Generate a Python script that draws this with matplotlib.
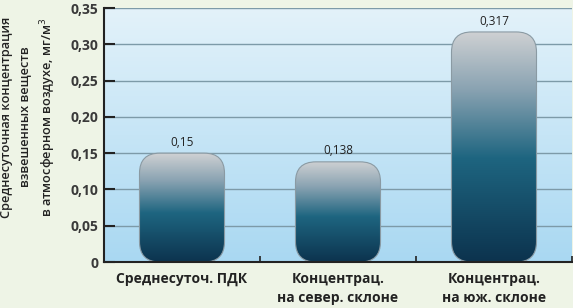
import numpy as np
import matplotlib.pyplot as plt
from matplotlib.patches import FancyBboxPatch
from matplotlib.colors import LinearSegmentedColormap

categories = ['Среднесуточ. ПДК', 'Концентрац.\nна север. склоне', 'Концентрац.\nна юж. склоне']
values = [0.15, 0.138, 0.317]
value_labels = ['0,15', '0,138', '0,317']
yticks = [0, 0.05, 0.10, 0.15, 0.20, 0.25, 0.30, 0.35]
ytick_labels = ['0', '0,05', '0,10', '0,15', '0,20', '0,25', '0,30', '0,35']

plt.rcParams['font.family'] = ['Open Sans', 'DejaVu Sans']

fig = plt.figure(figsize=(5.73, 3.08), dpi=100, facecolor='#eef4e6')
ax = fig.add_axes([104 / 573, 46 / 308, 468 / 573, 254 / 308])
ax.set_xlim(-0.5, 2.5)
ax.set_ylim(0, 0.35)

# background gradient of plot area
bg = LinearSegmentedColormap.from_list('bg', ['#a9d8f2', '#e3f2fa'])
ax.imshow(np.linspace(0, 1, 256).reshape(-1, 1), cmap=bg, origin='lower',
          extent=[-0.5, 2.5, 0, 0.35], aspect='auto', zorder=0)

for y in yticks[1:]:
    ax.axhline(y, color='#7d9aa8', lw=1, zorder=1)

x = np.arange(len(categories))
bars = ax.bar(x, values, 0.545, alpha=0, zorder=2)

barcm = LinearSegmentedColormap.from_list(
    'bar', [(0, '#0c334e'), (0.45, '#1e6580'), (0.75, '#8aa3b2'), (1, '#cfd1d3')])
# data units per pixel, to keep corners round
aspect = (0.35 / 254) / (3 / 468)
for b, lab in zip(bars, value_labels):
    bx, by, bw, bh = b.get_x(), b.get_y(), b.get_width(), b.get_height()
    patch = FancyBboxPatch((bx, by), bw, bh,
                           boxstyle='round,pad=0,rounding_size=0.13',
                           mutation_aspect=aspect, facecolor='none',
                           edgecolor='#8a9aa3', lw=0.8, zorder=4)
    ax.add_patch(patch)
    im = ax.imshow(np.linspace(0, 1, 256).reshape(-1, 1), cmap=barcm, origin='lower',
                   extent=[bx, bx + bw, by, by + bh], aspect='auto', zorder=3)
    im.set_clip_path(patch)
    ax.text(bx + bw / 2, by + bh + 0.006, lab, ha='center', va='bottom',
            fontsize=8.5, color='#222222')

ax.set_yticks(yticks)
ax.set_yticklabels(ytick_labels, fontsize=10, fontweight='bold', color='#3a3a3a')
ax.set_xticks(x)
ax.set_xticklabels(categories, fontsize=10, fontweight='bold', color='#222222',
                   linespacing=1.45)
ax.tick_params(axis='x', length=0, pad=7)
ax.tick_params(axis='y', direction='in', length=8, width=1.5, color='#222222', pad=4)
ax.set_xticks([0.5, 1.5, 2.5], minor=True)
ax.tick_params(axis='x', which='minor', direction='in', length=4, width=1.2, color='#222222')

for s in ['top', 'right']:
    ax.spines[s].set_visible(False)
for s in ['left', 'bottom']:
    ax.spines[s].set_color('#222222')
    ax.spines[s].set_linewidth(1.5)
    ax.spines[s].set_zorder(5)

fig.text(29 / 573, 1 - 117 / 308,
         'Среднесуточная концентрация\nвзвешенных веществ\nв атмосферном воздухе, мг/м$^3$',
         rotation=90, ha='center', va='center', multialignment='center',
         fontsize=9.2, fontweight='semibold', color='#222222', linespacing=1.55)

fig.savefig('out.png', dpi=100, facecolor=fig.get_facecolor())
